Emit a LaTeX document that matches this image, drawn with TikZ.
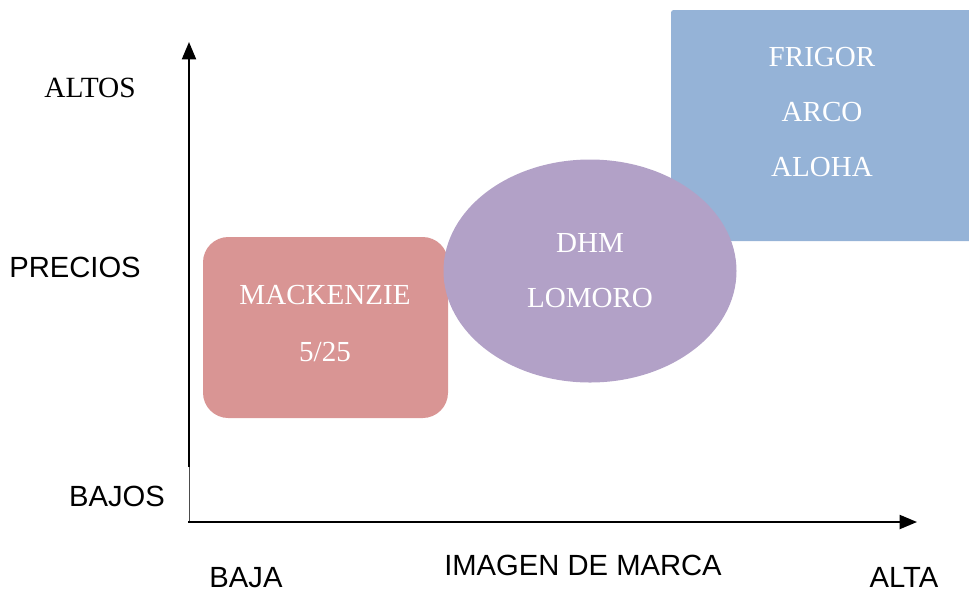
\documentclass[tikz,border=0pt]{standalone}
\usepackage{fontspec}
\setmainfont{Liberation Serif}
\setsansfont{Liberation Sans}
\usetikzlibrary{arrows.meta, shapes.geometric}

\definecolor{mackred}{HTML}{D99594}
\definecolor{dhmlila}{HTML}{B2A1C7}
\definecolor{frigblue}{HTML}{95B3D7}

\tikzset{
	axislabel/.style={font=\sffamily\fontsize{21.9}{25}\selectfont, text=black},
	serlabel/.style={font=\rmfamily\fontsize{22}{25}\selectfont, text=black},
	inlabel/.style={font=\rmfamily\fontsize{21.8}{25}\selectfont, text=white},
	axisarrow/.style={line width=1.5pt, -{Triangle[length=13pt, width=10.5pt]}}
}

\begin{document}
\begin{tikzpicture}[x=0.75pt, y=-0.75pt]
		\useasboundingbox (0,0) rectangle (969,594);
		
		% fondos de los grupos
		\fill[frigblue, rounded corners=2pt] (671,10) rectangle (975,241);
		\fill[mackred, rounded corners=19pt] (203,237) rectangle (448,418);
		\node (dhm) [ellipse, fill=dhmlila, minimum width=293*0.75pt, minimum height=223*0.75pt, inner sep=0] at (590,271) {};
		
		% marcas
		\node (frigor) [inlabel] at (822,57) {FRIGOR};
		\node (arco) [inlabel] at (822,112) {ARCO};
		\node (aloha) [inlabel] at (822,167) {ALOHA};
		\node (dhmtxt) [inlabel] at (590,243) {DHM};
		\node (lomoro) [inlabel] at (590,298) {LOMORO};
		\node (mackenzie) [inlabel] at (325,295) {MACKENZIE};
		\node (cinco) [inlabel] at (325,352) {5/25};
		
		% ejes
		\coordinate (origen) at (189,522);
		\coordinate (corte) at (189,467);
		\coordinate (ytop) at (189,42);
		\coordinate (xend) at (917,522);
		\draw[axisarrow] (corte) -- (ytop);
		\draw[line width=0.5pt, black!70] ([xshift=0.5pt]corte) -- ([xshift=0.5pt]origen);
		\draw[axisarrow] ([xshift=-0.5pt]origen) -- (xend);
		
		% rotulos de los ejes
		\node (altos) [serlabel] at (90,88) {ALTOS};
		\node (precios) [axislabel] at (75,267) {PRECIOS};
		\node (bajos) [axislabel] at (117,496) {BAJOS};
		\node (baja) [axislabel] at (246,578) {BAJA};
		\node (imagen) [axislabel] at (583,565) {IMAGEN DE MARCA};
		\node (alta) [axislabel] at (904,577) {ALTA};
\end{tikzpicture}
\end{document}
